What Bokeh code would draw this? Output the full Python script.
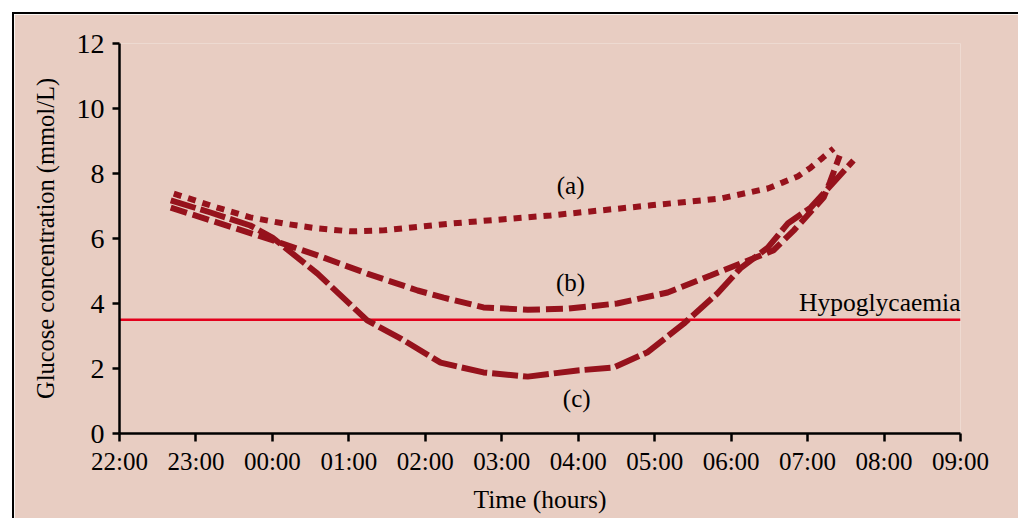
from bokeh.plotting import figure
from bokeh.models import Range1d, FixedTicker
from bokeh.core.properties import value
from bokeh.embed import file_html
from bokeh.resources import INLINE

# ---- data (x = hours after 22:00) ----
tick_hours = [0, 1, 2, 3, 4, 5, 6, 7, 8, 9, 10, 11]
tick_labels = ["22:00", "23:00", "00:00", "01:00", "02:00", "03:00",
               "04:00", "05:00", "06:00", "07:00", "08:00", "09:00"]
y_ticks = [0, 2, 4, 6, 8, 10, 12]

a_x = [0.71, 1.28, 1.71, 2.15, 2.59, 3.02, 3.45, 4.33, 5.64, 6.95, 7.86, 8.48, 8.67, 8.87, 9.04, 9.20, 9.34]
a_y = [7.38, 6.95, 6.65, 6.46, 6.31, 6.22, 6.25, 6.46, 6.71, 7.02, 7.23, 7.54, 7.72, 7.91, 8.18, 8.49, 8.77]

b_x = [0.67, 1.20, 2.00, 2.59, 3.24, 3.90, 4.24, 4.76, 5.34, 5.86, 6.51, 7.17, 7.73, 8.12, 8.55, 8.82, 9.21, 9.29, 9.42]
b_y = [6.95, 6.55, 5.95, 5.48, 4.92, 4.40, 4.18, 3.88, 3.81, 3.84, 4.00, 4.34, 4.86, 5.23, 5.63, 6.25, 7.26, 7.72, 8.55]

c_x = [0.67, 1.19, 1.71, 2.00, 2.59, 3.24, 3.68, 4.20, 4.76, 5.34, 5.99, 6.46, 6.90, 7.38, 7.82, 8.12, 8.48, 8.74, 9.04, 9.60]
c_y = [7.17, 6.80, 6.40, 6.03, 4.92, 3.48, 2.92, 2.18, 1.88, 1.75, 1.94, 2.03, 2.49, 3.38, 4.31, 5.08, 5.72, 6.46, 6.95, 8.40]

hypo_level = 3.5
hypo_x = [0, 11]

label_text = ["(a)", "(b)", "(c)"]
label_x = [5.9, 5.9, 5.98]
label_y = [7.63, 4.65, 1.08]

FONT = "Liberation Serif"
BG = "#e8cdc2"
CURVE = "#96121c"

p = figure(width=1006, height=506, output_backend="svg", toolbar_location=None,
           x_range=Range1d(0, 11), y_range=Range1d(0, 12),
           min_border_left=105, min_border_right=60, min_border_top=29, min_border_bottom=87,
           background_fill_color=BG, border_fill_color=BG,
           margin=(12, 0, 0, 12),
           styles={"border-top": "2px solid black", "border-left": "2px solid black"})
p.outline_line_color = None
p.grid.visible = False

for ax in (p.xaxis[0], p.yaxis[0]):
    ax.axis_line_width = 2.5
    ax.axis_line_color = "black"
    ax.major_tick_line_width = 2.5
    ax.major_tick_line_color = "black"
    ax.major_tick_in = 0
    ax.minor_tick_line_color = None
    ax.major_label_text_font = FONT
    ax.major_label_text_color = "black"
    ax.axis_label_text_font = FONT
    ax.axis_label_text_font_style = "normal"
    ax.axis_label_text_color = "black"

p.xaxis.ticker = FixedTicker(ticks=tick_hours)
p.xaxis.major_label_overrides = {h: l for h, l in zip(tick_hours, tick_labels)}
p.xaxis.major_tick_out = 8
p.xaxis.major_label_standoff = 6
p.xaxis.major_label_text_font_size = "25px"
p.xaxis.axis_label = "Time (hours)"
p.xaxis.axis_label_text_font_size = "25.5px"
p.xaxis.axis_label_standoff = 7

p.yaxis.ticker = FixedTicker(ticks=y_ticks)
p.yaxis.major_tick_out = 7
p.yaxis.major_label_standoff = 8
p.yaxis.major_label_text_font_size = "28px"
p.yaxis.axis_label = "Glucose concentration (mmol/L)"
p.yaxis.axis_label_text_font_size = "24.5px"
p.yaxis.axis_label_standoff = 15

p.line(hypo_x, [hypo_level] * len(hypo_x), line_color="#e3001b", line_width=2.5)

p.line(a_x, a_y, line_color=CURVE, line_width=6, line_dash="8 7")
p.line(b_x, b_y, line_color=CURVE, line_width=6, line_dash="17 6")
p.line(c_x, c_y, line_color=CURVE, line_width=6, line_dash="26 5")

p.text(x=label_x, y=label_y, text=label_text, text_font=value(FONT), text_font_size="25px",
       text_align="center", text_baseline="middle", text_color="black")
p.text(x=[11], y=[hypo_level + 0.08], text=["Hypoglycaemia"], text_font=value(FONT),
       text_font_size="25.5px", text_align="right", text_baseline="bottom", text_color="black")

open("out.html", "w").write(file_html(p, INLINE))
